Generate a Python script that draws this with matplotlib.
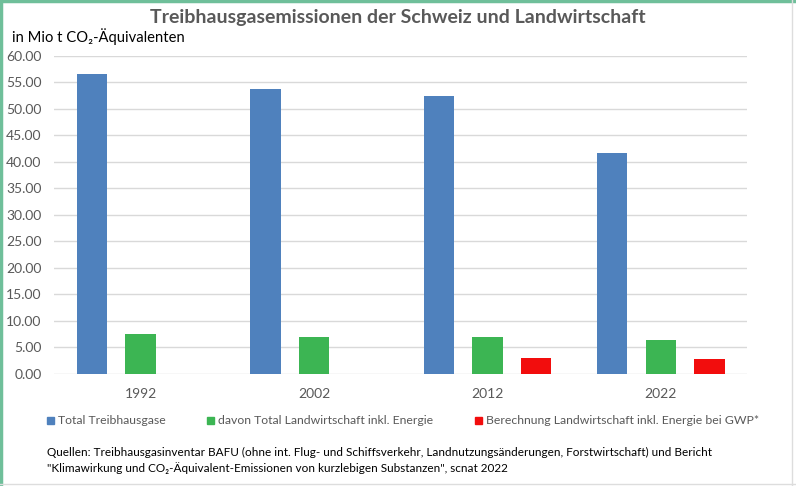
import numpy as np
import matplotlib.pyplot as plt
from matplotlib.patches import Rectangle
from matplotlib.lines import Line2D

plt.rcParams["font.family"] = ["Lato", "DejaVu Sans"]

years = ["1992", "2002", "2012", "2022"]
total_thg = [56.55, 53.7, 52.45, 41.6]
landwirtschaft = [7.55, 6.9, 6.85, 6.45]
gwp_star = [np.nan, np.nan, 2.9, 2.85]

series_labels = [
    "Total Treibhausgase",
    "davon Total Landwirtschaft inkl. Energie",
    "Berechnung Landwirtschaft inkl. Energie bei GWP*",
]
colors = ["#4f81bd", "#3cb553", "#f20d0d"]

W, H = 796, 486
fig = plt.figure(figsize=(W / 100, H / 100), dpi=100)
ax = fig.add_axes([0.0678, 0.231, 0.8712, 0.6544])

x = np.arange(len(years))
width = 0.176
offset = 0.28
for i, (vals, col) in enumerate(zip([total_thg, landwirtschaft, gwp_star], colors)):
    ax.bar(x + (i - 1) * offset, vals, width, color=col, zorder=3)

ax.set_xlim(-0.5, 3.5)
ax.set_ylim(0, 60)
ax.set_yticks(np.arange(0, 61, 5))
ax.set_yticklabels([f"{v:.2f}" for v in np.arange(0, 61, 5)])
ax.set_xticks(x)
ax.set_xticklabels(years)
ax.grid(axis="y", color="#d9d9d9", linewidth=1, zorder=0)
for s in ax.spines.values():
    s.set_visible(False)
ax.tick_params(axis="both", length=0, colors="#595959", labelsize=10)
ax.tick_params(axis="y", pad=9)
ax.tick_params(axis="x", pad=10)

fig.text(0.5, 0.965, "Treibhausgasemissionen der Schweiz und Landwirtschaft",
         ha="center", va="center", fontsize=14, fontweight="bold", color="#595959")
fig.text(0.015, 0.924, "in Mio t CO₂-Äquivalenten", ha="left", va="center",
         fontsize=10.6, color="black")

# legend drawn by hand: square + label, positions in pixels
legend_x = [47, 207, 475]
for lx, lab, col in zip(legend_x, series_labels, colors):
    fig.add_artist(Rectangle((lx / W, (H - 424) / H), 7 / W, 7 / H,
                             color=col, transform=fig.transFigure))
    fig.text((lx + 11) / W, (H - 420) / H, lab, ha="left", va="center",
             fontsize=8.8, color="#595959")

fig.text(0.059, 0.069,
         "Quellen: Treibhausgasinventar BAFU (ohne int. Flug- und Schiffsverkehr, "
         "Landnutzungsänderungen, Forstwirtschaft) und Bericht",
         ha="left", va="center", fontsize=8.5, color="black")
fig.text(0.059, 0.036,
         "\"Klimawirkung und CO₂-Äquivalent-Emissionen von kurzlebigen Substanzen\", scnat 2022",
         ha="left", va="center", fontsize=8.5, color="black")

# frame around the chart
fig.add_artist(Line2D([0.001, 0.001], [0, 1], color="#6fbf9a", lw=2.5, transform=fig.transFigure))
fig.add_artist(Line2D([0, 1], [0.998, 0.998], color="#6fbf9a", lw=2.5, transform=fig.transFigure))
fig.add_artist(Line2D([0.995, 0.995], [0, 1], color="#dddddd", lw=1, transform=fig.transFigure))
fig.add_artist(Line2D([0, 1], [0.004, 0.004], color="#dddddd", lw=1, transform=fig.transFigure))

fig.savefig("out.png", dpi=100)
